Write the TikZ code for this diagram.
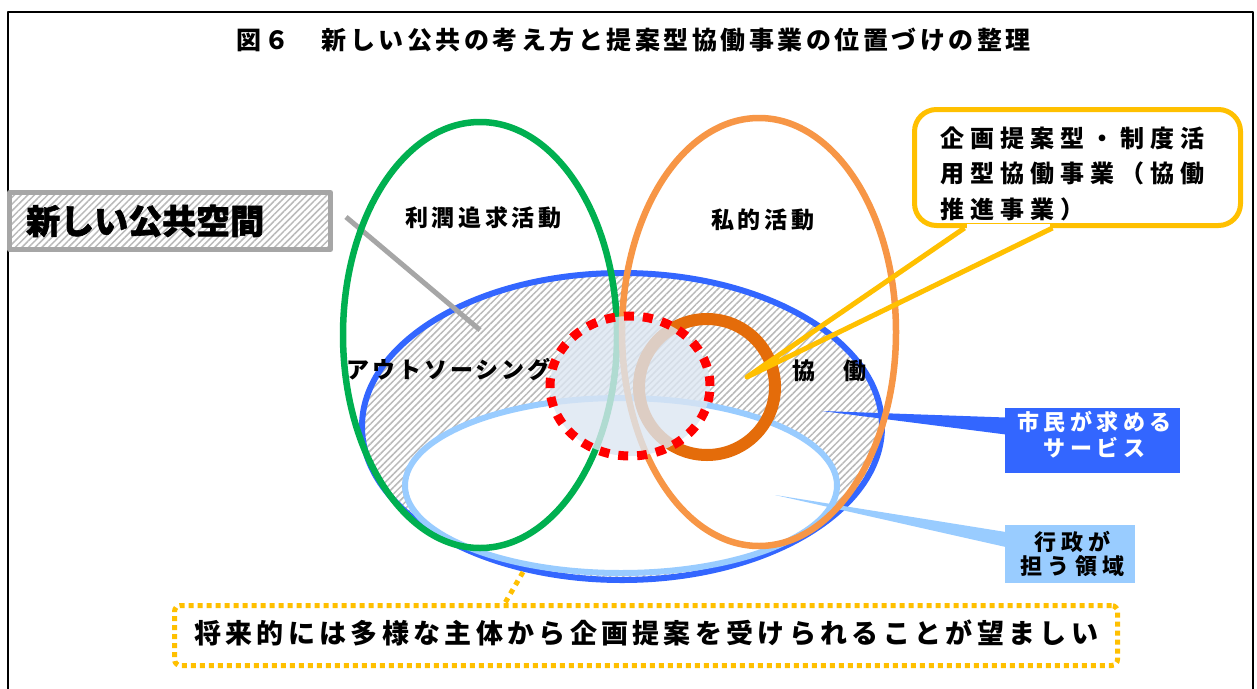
\documentclass[tikz,border=0pt]{standalone}
\usepackage{fontspec}
\newfontfamily\jp{Noto Sans CJK JP}
\usetikzlibrary{patterns.meta,calc}
\definecolor{fgreen}{HTML}{00B050}
\definecolor{forange}{HTML}{F79646}
\definecolor{fblue}{HTML}{3366FF}
\definecolor{flblue}{HTML}{99CCFF}
\definecolor{fdorange}{HTML}{E46C0A}
\definecolor{fyellow}{HTML}{FFC000}
\definecolor{ffill}{HTML}{DCE6F2}
\definecolor{fgray}{HTML}{A6A6A6}
\newcommand\jpf[3]{\jp\bfseries\fontsize{#1}{#2}\selectfont\addfontfeatures{LetterSpace=#3}}
\begin{document}
\begin{tikzpicture}[x=1pt,y=-1pt,line join=round,
  hatchfill/.style={pattern={Lines[angle=45,distance=4.7pt,line width=1.5pt]},pattern color=black!27},
  txt/.style={inner sep=0pt,text=black},
  ring/.style={line width=6.5pt},
  infobox/.style={inner sep=0pt,align=center}]
\useasboundingbox (0,0) rectangle (1257,688);
\fill[white] (0,0) rectangle (1257,688);
\draw[line width=2pt] (8,700) -- (8,12) -- (1253,12) -- (1253,700);
\node[txt,font=\jpf{25}{25}{14},anchor=west] (title) at (236,40) {図６　新しい公共の考え方と提案型協働事業の位置づけの整理};

% citizen services (blue) and administration (light blue)
\draw[fblue,line width=6pt,hatchfill] (622,426.5) ellipse [x radius=260pt,y radius=153.5pt];
\draw[flblue,line width=6pt,fill=white] (621,485.5) ellipse [x radius=216pt,y radius=87.5pt];

% callout boxes on the right
\node[infobox,fill=fblue,minimum width=175pt,minimum height=65pt] (citizen) at (1092.5,440.5) {};
\node[txt,text=white,font=\jpf{22}{26}{20},align=center] (citizentext) at (1094.5,435) {市民が求める\\サービス};
\coordinate (btip) at (822,411);
\fill[fblue] (btip) -- ($(citizen.west)+(1,-23)$) -- ($(citizen.west)+(1,-6)$) -- cycle;

\node[infobox,fill=flblue,minimum width=130pt,minimum height=58pt] (gov) at (1070,554) {};
\node[txt,font=\jpf{22}{24}{25},align=center] (govtext) at (1072.5,553.5) {行政が\\担う領域};
\coordinate (ltip) at (775,495);
\fill[flblue] (ltip) -- ($(gov.west)+(1,-22)$) -- ($(gov.west)+(1,-7)$) -- cycle;

% pointer of the label
\coordinate (g1) at (346,217);
\coordinate (g2) at (480,330);
\draw[fgray,line width=5pt,line cap=butt] (g1) -- (g2);

% profit and private activity
\draw[fgreen,ring] (480,335) ellipse [x radius=137pt,y radius=213pt];
\draw[forange,ring] (759,332) ellipse [x radius=137pt,y radius=214pt];

% collaboration ring and centre
\draw[fdorange,line width=12pt] (707,387) circle [radius=68pt];
\fill[ffill,opacity=0.8] (630,386) ellipse [x radius=80pt,y radius=70pt];
\draw[red,line width=9pt,dash pattern=on 10pt off 9pt] (630,386) ellipse [x radius=80pt,y radius=70pt];

% yellow speech balloon
\node[draw=fyellow,line width=5pt,fill=white,rounded corners=22pt,minimum width=326pt,minimum height=116pt,inner sep=0pt] (callout) at (1077.5,167.5) {};
\fill[white] ($(callout.south west)+(55,-4)$) rectangle ($(callout.south west)+(138,4)$);
\coordinate (ytip) at (747,377);
\draw[fyellow,line width=5pt] ($(callout.south west)+(52.5,0)$) -- (ytip) -- ($(callout.south west)+(140.5,0)$);
\node[txt,font=\jpf{24}{35.5}{25},align=left,anchor=west] (callouttext) at (940,173.5) {企画提案型・制度活\\用型協働事業（協働\\推進事業）};

% labels
\node[txt,font=\jpf{23}{23}{16},anchor=west] (profit) at (405,218) {利潤追求活動};
\node[txt,font=\jpf{23}{23}{16},anchor=west] (private) at (711,220) {私的活動};
\node[txt,font=\jpf{23}{23}{13},anchor=west] (outsrc) at (346,370) {アウトソーシング};
\node[txt,font=\jpf{23}{23}{11},anchor=west] (collab) at (792,371) {協　働};

% new public space label
\node[draw=fgray,line width=5pt,hatchfill,minimum width=321pt,minimum height=57pt,inner sep=0pt] (newpub) at (170,221) {};
\node[txt,font={\jpf{34}{34}{0}\addfontfeatures{FakeBold=1.8}},anchor=west] (newpubtext) at (26,221) {新しい公共空間};

% bottom note
\node[draw=fyellow,line width=5pt,dash pattern=on 5pt off 4pt,rounded corners=6pt,fill=white,minimum width=943pt,minimum height=60pt,inner sep=0pt] (future) at (646,635.5) {};
\node[txt,font=\jpf{27}{27}{16},anchor=west] (futuretext) at (194,633) {将来的には多様な主体から企画提案を受けられることが望ましい};
\coordinate (d1) at (523,572);
\draw[fyellow,line width=5pt,dash pattern=on 5pt off 5pt] (d1) -- ($(future.north west)+(333,0)$);
\end{tikzpicture}
\end{document}
